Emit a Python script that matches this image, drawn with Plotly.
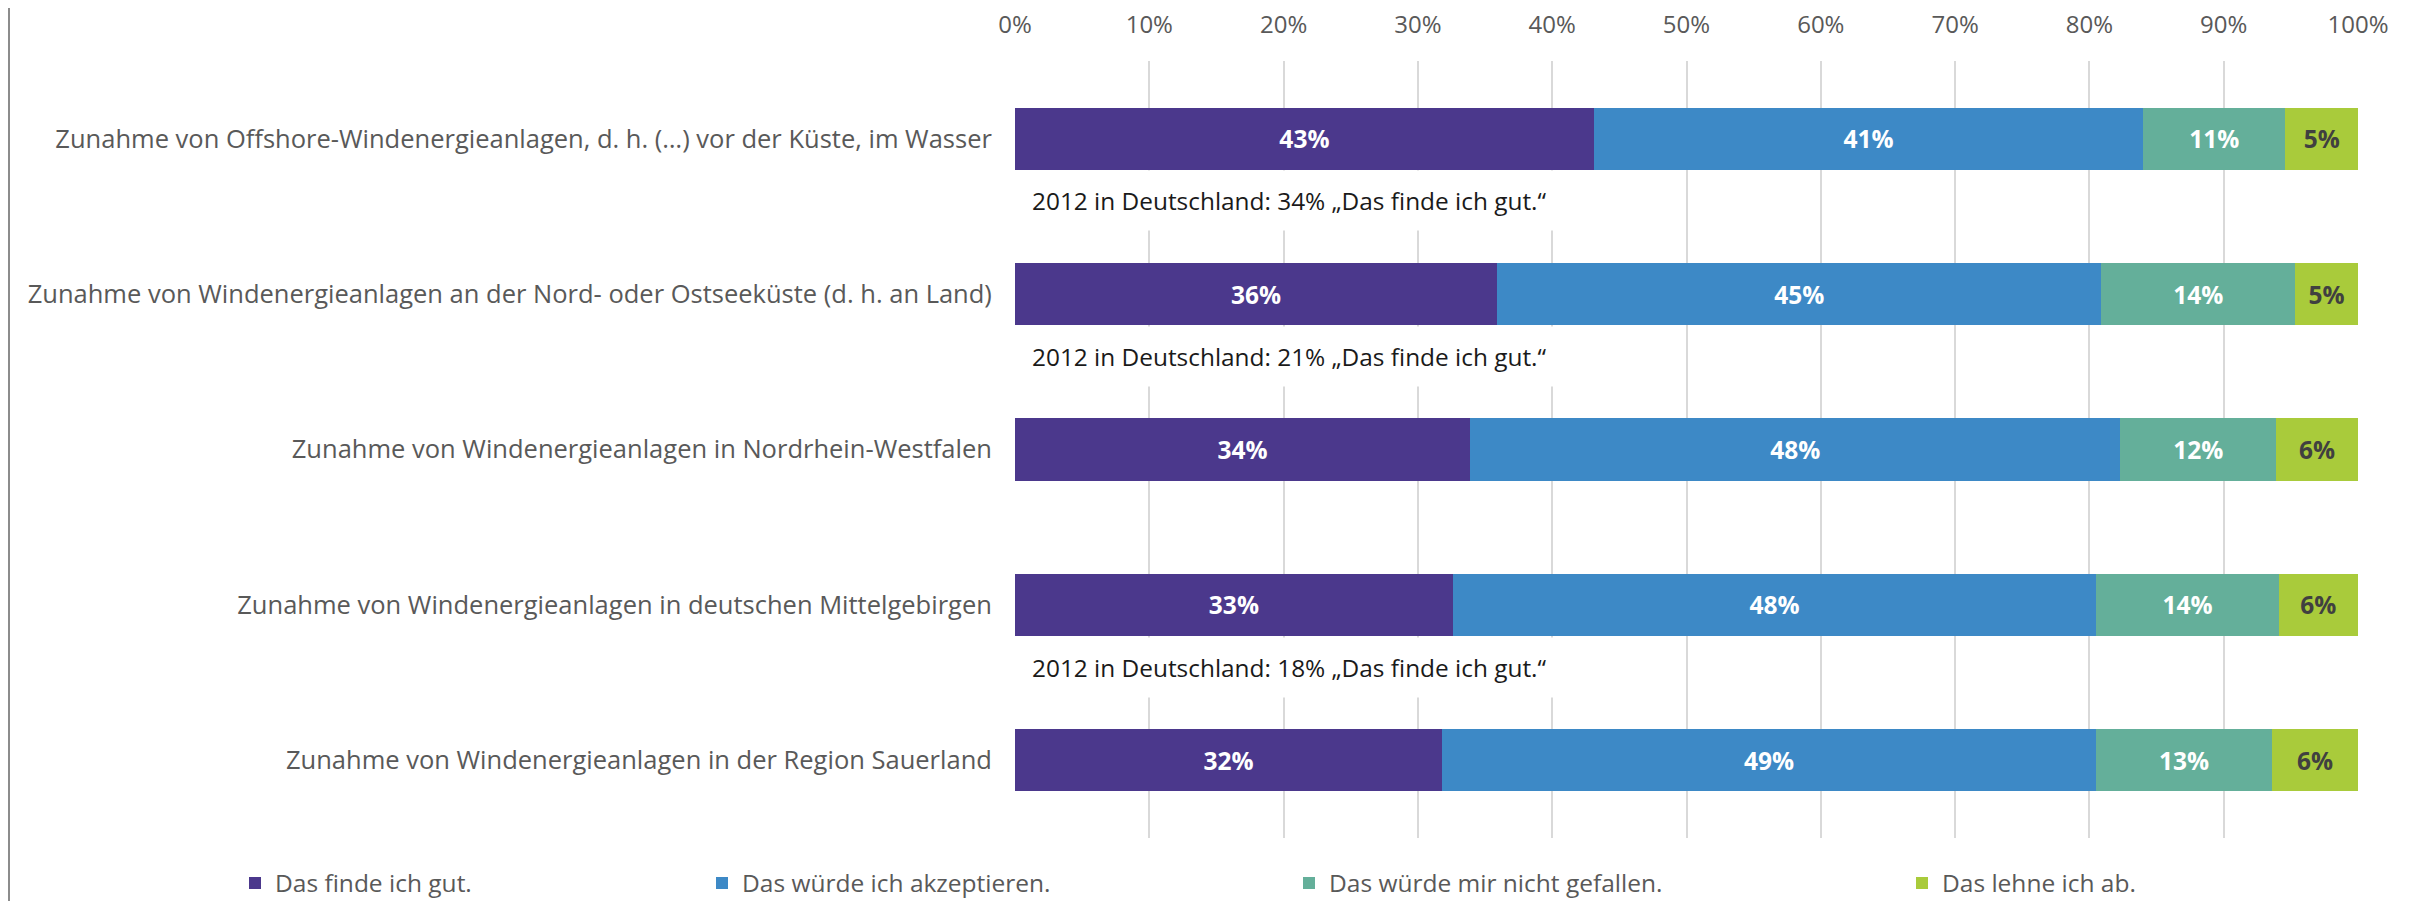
import plotly.graph_objects as go

# categories (top to bottom)
statements = [
    "Zunahme von Offshore-Windenergieanlagen, d. h. (…) vor der Küste, im Wasser",
    "Zunahme von Windenergieanlagen an der Nord- oder Ostseeküste (d. h. an Land)",
    "Zunahme von Windenergieanlagen in Nordrhein-Westfalen",
    "Zunahme von Windenergieanlagen in deutschen Mittelgebirgen",
    "Zunahme von Windenergieanlagen in der Region Sauerland",
]

# shares in percent
finde_gut = [43.1, 35.9, 33.9, 32.6, 31.8]
akzeptieren = [40.9, 45.0, 48.4, 47.9, 48.7]
nicht_gefallen = [10.6, 14.4, 11.6, 13.6, 13.1]
lehne_ab = [5.4, 4.7, 6.1, 5.9, 6.4]

series_names = [
    "Das finde ich gut.",
    "Das würde ich akzeptieren.",
    "Das würde mir nicht gefallen.",
    "Das lehne ich ab.",
]
colors = ["#4B388C", "#3D89C6", "#64AF9A", "#A9CB3B"]
label_colors = ["white", "white", "white", "#404040"]

# 2012 comparison notes: (index of the bar above, text)
note_rows = [0, 1, 3]
note_texts = [
    "2012 in Deutschland: 34% „Das finde ich gut.“",
    "2012 in Deutschland: 21% „Das finde ich gut.“",
    "2012 in Deutschland: 18% „Das finde ich gut.“",
]

FONT = "Open Sans, sans-serif"
GRAY = "#595959"

# page body adds 8px, so the figure is a bit smaller than the window
W, H = 2412, 893
L, T = 1007, 53
pw, ph = 1343, 777
R, B = W - L - pw, H - T - ph

legend_px = [227, 694, 1281, 1894]

fig = go.Figure()
all_values = [finde_gut, akzeptieren, nicht_gefallen, lehne_ab]
for i, (name, vals) in enumerate(zip(series_names, all_values)):
    fig.add_trace(go.Bar(
        y=statements,
        x=vals,
        name=name,
        orientation="h",
        marker=dict(color=colors[i], line=dict(width=0)),
        texttemplate="%{x:.0f}%",
        textposition="inside",
        insidetextanchor="middle",
        textangle=0,
        textfont=dict(family=FONT, size=24.5, color=label_colors[i], weight="bold"),
        legend="legend" if i == 0 else f"legend{i + 1}",
        hoverinfo="x+name",
    ))

for row, txt in zip(note_rows, note_texts):
    fig.add_annotation(
        x=0, y=row + 0.4, xref="x", yref="y",
        text=txt, showarrow=False,
        xanchor="left", yanchor="middle", xshift=3,
        font=dict(family=FONT, size=24.4, color="#1a1a1a"),
        bgcolor="white", borderpad=13,
    )

# thin frame line on the left edge
fig.add_shape(type="line", xref="paper", yref="paper",
              x0=(1 - L) / pw, x1=(1 - L) / pw, y0=-1, y1=2,
              line=dict(color="#8c8c8c", width=2))

legends = {}
for i, px in enumerate(legend_px):
    key = "legend" if i == 0 else f"legend{i + 1}"
    legends[key] = dict(
        x=(px - L) / pw, y=-45 / ph, xanchor="left", yanchor="middle",
        orientation="h", bgcolor="rgba(0,0,0,0)",
        font=dict(family=FONT, size=24.5, color=GRAY),
        itemclick=False, itemdoubleclick=False,
    )

fig.update_layout(
    width=W, height=H,
    margin=dict(l=L, r=R, t=T, b=B, autoexpand=False),
    barmode="stack",
    bargap=0.6,
    paper_bgcolor="white",
    plot_bgcolor="white",
    font=dict(family=FONT, color=GRAY),
    showlegend=True,
    xaxis=dict(
        side="top", range=[0, 100], dtick=10, ticksuffix="%",
        showgrid=True, gridcolor="#D9D9D9", gridwidth=2,
        zeroline=False, showline=False, automargin=False,
        ticks="outside", ticklen=17, tickcolor="rgba(0,0,0,0)",
        tickfont=dict(family=FONT, size=24, color=GRAY),
    ),
    yaxis=dict(
        autorange="reversed", showgrid=False, zeroline=False, showline=False,
        automargin=False,
        ticks="outside", ticklen=17, tickcolor="rgba(0,0,0,0)",
        tickfont=dict(family=FONT, size=25.5, color=GRAY),
    ),
    **legends,
)

fig.write_html("out.html")
